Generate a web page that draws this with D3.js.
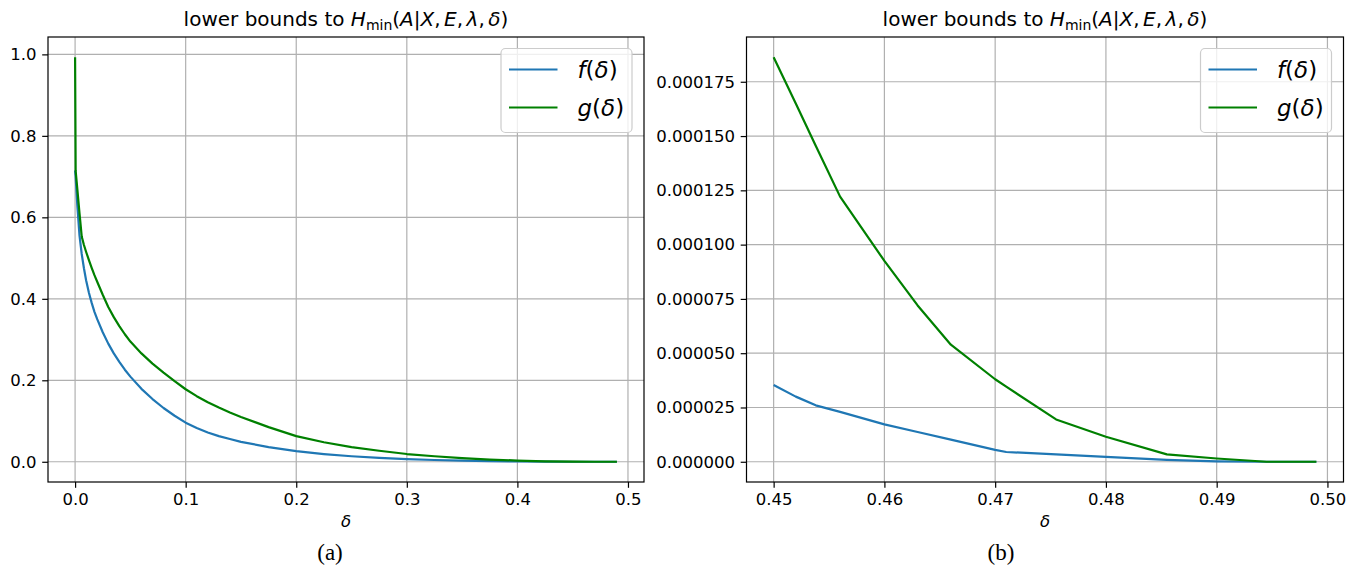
<!DOCTYPE html>
<html><head><meta charset="utf-8">
<script src="https://cdn.jsdelivr.net/npm/d3@7"></script>
<style>
body{margin:0;background:#fff}
svg{display:block}
text{font-family:"DejaVu Sans",sans-serif;fill:#000}
</style>
</head><body>
<svg id="c" width="1360" height="567"></svg>
<script>
// ---------- data: panel (a) ----------
const deltaA = [0, 0.0005, 0.002, 0.004, 0.006, 0.008, 0.01, 0.0125, 0.015, 0.0175, 0.02, 0.025, 0.03, 0.035, 0.04, 0.045, 0.05, 0.06, 0.07, 0.08, 0.09, 0.1, 0.11, 0.12, 0.13, 0.14, 0.15, 0.175, 0.2, 0.225, 0.25, 0.275, 0.3, 0.325, 0.35, 0.375, 0.4, 0.425, 0.45, 0.47, 0.49];
const fA = [0.715, 0.70, 0.63, 0.555, 0.51, 0.475, 0.445, 0.415, 0.39, 0.368, 0.35, 0.318, 0.29, 0.266, 0.245, 0.226, 0.209, 0.179, 0.154, 0.132, 0.113, 0.096, 0.083, 0.072, 0.063, 0.056, 0.049, 0.036, 0.026, 0.019, 0.0135, 0.0095, 0.0065, 0.0043, 0.0027, 0.0015, 0.0007, 0.0003, 0.00004, 0.00001, 0];
const gA = [0.993, 0.714, 0.67, 0.61, 0.553, 0.532, 0.515, 0.495, 0.476, 0.458, 0.442, 0.41, 0.38, 0.355, 0.333, 0.313, 0.295, 0.266, 0.241, 0.219, 0.198, 0.178, 0.161, 0.146, 0.133, 0.121, 0.110, 0.085, 0.063, 0.048, 0.036, 0.027, 0.019, 0.0135, 0.009, 0.0055, 0.003, 0.0012, 0.0002, 0.00003, 0];
const xTickLabelsA = ["0.0", "0.1", "0.2", "0.3", "0.4", "0.5"];
const yTickLabelsA = ["0.0", "0.2", "0.4", "0.6", "0.8", "1.0"];

// ---------- data: panel (b) ----------
const deltaB = [0.45, 0.452, 0.4538, 0.456, 0.46, 0.463, 0.466, 0.47, 0.471, 0.4755, 0.48, 0.4855, 0.49, 0.4945, 0.499];
const fB = [3.54e-5, 3.0e-5, 2.6e-5, 2.3e-5, 1.72e-5, 1.37e-5, 1.02e-5, 5.5e-6, 4.5e-6, 3.4e-6, 2.3e-6, 9e-7, 2e-7, 0, 0];
const gB = [1.863e-4, 1.65e-4, 1.455e-4, 1.221e-4, 9.25e-5, 7.2e-5, 5.39e-5, 3.8e-5, 3.46e-5, 1.95e-5, 1.15e-5, 3.4e-6, 1.5e-6, 0, 0];
const xTickLabelsB = ["0.45", "0.46", "0.47", "0.48", "0.49", "0.50"];
const yTickLabelsB = ["0.000000", "0.000025", "0.000050", "0.000075", "0.000100", "0.000125", "0.000150", "0.000175"];

const seriesNames = ["f", "g"];
const captions = ["(a)", "(b)"];

// ---------- drawing ----------
const svg = d3.select("#c");
const TOP = 37, BOTTOM = 482;
const COLORS = {f: "#1f77b4", g: "#008000"};
const TICK_FS = 16.5, TITLE_FS = 20, LEG_FS = 23;

const panels = [
  {left: 48, right: 644, xs: deltaA, f: fA, g: gA, xt: xTickLabelsA, yt: yTickLabelsA, cap: captions[0], capX: 330},
  {left: 746.5, right: 1343.5, xs: deltaB, f: fB, g: gB, xt: xTickLabelsB, yt: yTickLabelsB, cap: captions[1], capX: 1001}
];

function pad(ext) { const r = ext[1] - ext[0]; return [ext[0] - 0.05 * r, ext[1] + 0.05 * r]; }

panels.forEach(p => {
  const xScale = d3.scaleLinear().domain(pad(d3.extent(p.xs))).range([p.left, p.right]);
  const yScale = d3.scaleLinear().domain(pad(d3.extent(p.f.concat(p.g)))).range([BOTTOM, TOP]);
  const xv = p.xt.map(Number), yv = p.yt.map(Number);
  const g = svg.append("g");

  // grid
  g.append("g").selectAll("line").data(xv).join("line")
    .attr("x1", d => xScale(d)).attr("x2", d => xScale(d)).attr("y1", TOP).attr("y2", BOTTOM)
    .attr("stroke", "#b0b0b0").attr("stroke-width", 1.2);
  g.append("g").selectAll("line").data(yv).join("line")
    .attr("y1", d => yScale(d)).attr("y2", d => yScale(d)).attr("x1", p.left).attr("x2", p.right)
    .attr("stroke", "#b0b0b0").attr("stroke-width", 1.2);

  // lines
  seriesNames.forEach(s => {
    const line = d3.line().x((d, i) => xScale(p.xs[i])).y(d => yScale(d));
    g.append("path").datum(p[s]).attr("d", line).attr("fill", "none")
      .attr("stroke", COLORS[s]).attr("stroke-width", 2.2).attr("stroke-linejoin", "round").attr("stroke-linecap", "butt");
  });

  // axes
  const ax = g.append("g").attr("transform", `translate(0,${BOTTOM})`)
    .call(d3.axisBottom(xScale).tickValues(xv).tickFormat((d, i) => p.xt[i]).tickSize(5.8).tickPadding(5.8));
  const ay = g.append("g").attr("transform", `translate(${p.left},0)`)
    .call(d3.axisLeft(yScale).tickValues(yv).tickFormat((d, i) => p.yt[i]).tickSize(5.8).tickPadding(5.8));
  [ax, ay].forEach(a => {
    a.select(".domain").remove();
    a.selectAll("line").attr("stroke", "#000").attr("stroke-width", 1.2);
    a.selectAll("text").style("font-family", '"DejaVu Sans",sans-serif').style("font-size", TICK_FS + "px").attr("fill", "#000");
  });

  // spines
  g.append("rect").attr("x", p.left).attr("y", TOP).attr("width", p.right - p.left).attr("height", BOTTOM - TOP)
    .attr("fill", "none").attr("stroke", "#000").attr("stroke-width", 1.2);

  // title
  const cx = (p.left + p.right) / 2;
  const t = g.append("text").attr("x", cx).attr("y", 26).attr("text-anchor", "middle").style("font-size", TITLE_FS + "px");
  t.append("tspan").text("lower bounds to ");
  t.append("tspan").attr("font-style", "italic").text("H");
  t.append("tspan").attr("dy", 4).style("font-size", (TITLE_FS * 0.7) + "px").text("min");
  t.append("tspan").attr("dy", -4).text("(");
  t.append("tspan").attr("font-style", "italic").text("A");
  t.append("tspan").text("|");
  t.append("tspan").attr("font-style", "italic").text("X");
  t.append("tspan").text(",");
  t.append("tspan").attr("dx", 3.5).attr("font-style", "italic").text("E");
  t.append("tspan").text(",");
  t.append("tspan").attr("dx", 3.5).attr("font-style", "italic").text("λ");
  t.append("tspan").text(",");
  t.append("tspan").attr("dx", 3.5).attr("font-style", "italic").text("δ");
  t.append("tspan").text(")");

  // x label
  g.append("text").attr("x", cx).attr("y", 527).attr("text-anchor", "middle")
    .attr("font-style", "italic").style("font-size", TICK_FS + "px").text("δ");

  // caption
  g.append("text").attr("x", p.capX).attr("y", 560).attr("text-anchor", "middle")
    .style("font-family", '"Liberation Serif",serif').style("font-size", "23px").text(p.cap);

  // legend
  const bw = 131, bh = 84;
  const bx = p.right - 12 - bw, by = TOP + 11.5;
  const lg = g.append("g");
  lg.append("rect").attr("x", bx).attr("y", by).attr("width", bw).attr("height", bh).attr("rx", 4.5)
    .attr("fill", "#fff").attr("fill-opacity", 0.8).attr("stroke", "#cccccc").attr("stroke-width", 1.2);
  seriesNames.forEach((s, i) => {
    const ry = by + 21 + i * 38;
    lg.append("line").attr("x1", bx + 8).attr("x2", bx + 56.5).attr("y1", ry).attr("y2", ry)
      .attr("stroke", COLORS[s]).attr("stroke-width", 2.2);
    const tt = lg.append("text").attr("x", bx + 76.5).attr("y", ry + 8).style("font-size", LEG_FS + "px");
    tt.append("tspan").attr("font-style", "italic").text(s);
    tt.append("tspan").text("(");
    tt.append("tspan").attr("font-style", "italic").text("δ");
    tt.append("tspan").text(")");
  });
});
</script>
</body></html>
